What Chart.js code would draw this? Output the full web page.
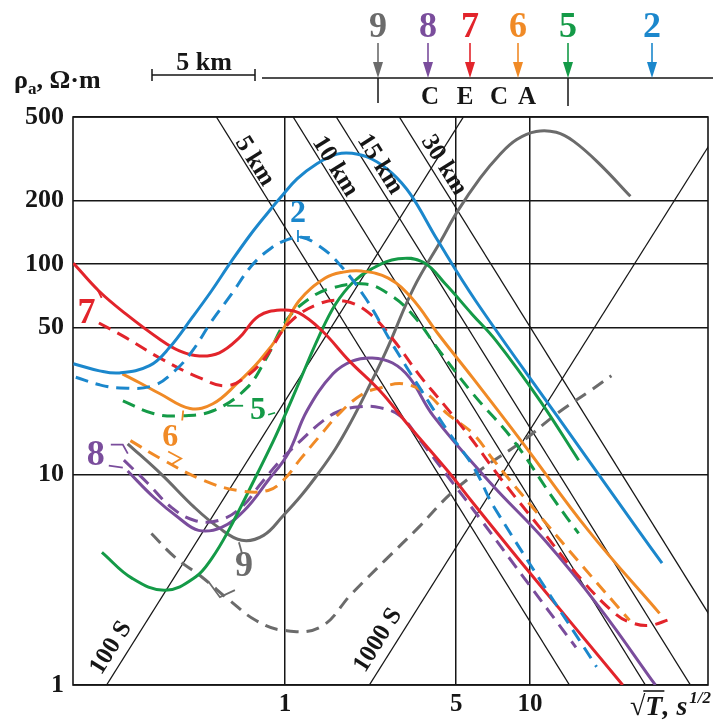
<!DOCTYPE html>
<html>
<head>
<meta charset="utf-8">
<script src="https://cdn.jsdelivr.net/npm/chart.js@4.4.1/dist/chart.umd.min.js"></script>
<style>
  html, body { margin: 0; padding: 0; background: #fff; }
</style>
</head>
<body>
<canvas id="rhoChart" width="713" height="722"></canvas>
<script>
// apparent resistivity curves, [sqrt(T), rho_a]
const site2Solid = [[0.137,33.6],[0.175,31.1],[0.211,30.4],[0.280,32.9],[0.337,40.0],[0.417,55.5],[0.501,74.5],[0.604,103],[0.726,139],[0.850,175],[0.959,207],[1.12,254],[1.35,300],[1.63,333],[1.88,336],[2.27,315],[2.74,270],[3.25,215],[4.21,129],[6.01,66.8],[12.9,19.0],[27.7,5.43],[34.6,3.79]];
const site2Dash = [[0.140,29.0],[0.175,26.7],[0.212,25.8],[0.289,26.4],[0.355,31.1],[0.419,38.7],[0.503,53.7],[0.606,72.1],[0.729,97.9],[0.877,119],[1.03,131],[1.17,134],[1.35,124],[1.63,103],[2.13,69.0],[2.74,41.8],[3.55,25.8],[4.60,16.2],[5.90,10.8],[7.15,6.98],[18.7,1.22]];
const site7Solid = [[0.137,101],[0.174,74.5],[0.224,58.0],[0.307,44.1],[0.371,38.7],[0.448,36.6],[0.540,37.9],[0.650,44.6],[0.782,56.7],[0.971,60.5],[1.14,58.6],[1.42,48.1],[1.83,34.7],[2.44,25.0],[3.16,17.4],[4.62,10.4],[5.75,7.53],[9.27,3.79],[23.9,1.0]];
const site7Dash = [[0.174,52.5],[0.225,44.6],[0.308,35.8],[0.449,28.8],[0.579,26.4],[0.718,30.1],[0.840,36.6],[1.04,52.5],[1.37,64.6],[1.74,66.8],[2.20,58.6],[2.79,43.2],[3.55,29.5],[4.50,21.2],[5.71,15.0],[7.60,9.57],[11.2,5.43],[16.3,3.15],[22.4,2.17],[26.2,1.97],[30.8,1.92],[37.2,2.05]];
const site6Solid = [[0.217,30.1],[0.255,27.3],[0.309,24.2],[0.410,20.6],[0.508,21.7],[0.636,27.0],[0.787,34.7],[0.973,48.1],[1.14,66.8],[1.46,85.8],[1.73,91.6],[2.05,92.7],[2.64,85.8],[3.29,69.0],[4.26,45.9],[5.84,28.8],[9.40,14.0],[17.3,5.43],[33.8,2.19]];
const site6Dash = [[0.234,14.5],[0.311,11.9],[0.467,9.37],[0.644,8.40],[0.853,8.40],[0.991,9.47],[1.16,11.9],[1.39,15.3],[1.68,19.7],[2.08,24.2],[2.44,25.8],[3.03,27.0],[3.79,24.2],[4.59,19.5],[5.87,15.6],[7.11,11.7],[10.1,7.13],[16.3,3.70],[25.5,2.03]];
const site5Solid = [[0.179,4.27],[0.238,3.21],[0.324,2.82],[0.430,3.25],[0.503,4.00],[0.589,5.43],[0.747,9.37],[0.898,14.5],[0.985,18.4],[1.15,27.9],[1.38,45.6],[1.61,64.6],[1.90,82.2],[2.25,94.7],[2.90,106],[3.67,102],[4.52,80.4],[5.79,58.0],[7.28,43.2],[11.0,22.4],[15.8,11.7]];
const site5Dash = [[0.218,22.4],[0.290,19.5],[0.373,19.0],[0.509,20.1],[0.699,25.8],[0.840,35.8],[1.01,53.7],[1.25,68.2],[1.55,76.9],[2.13,80.4],[2.65,72.1],[3.30,58.0],[4.27,38.7],[5.85,24.2],[8.57,14.5],[12.6,7.53],[15.8,5.25]];
const site8Solid = [[0.228,10.4],[0.292,7.78],[0.367,6.25],[0.444,5.43],[0.551,5.61],[0.682,6.75],[0.853,9.37],[1.03,12.6],[1.23,20.1],[1.57,30.1],[1.89,34.7],[2.27,35.8],[2.75,33.9],[3.23,28.8],[4.03,19.0],[6.93,9.07],[11.5,4.87],[19.2,2.34],[32.5,1.0]];
const site8Dash = [[0.220,11.7],[0.276,9.07],[0.344,6.98],[0.428,6.05],[0.536,6.05],[0.663,6.98],[0.798,9.07],[0.960,11.7],[1.16,14.5],[1.43,18.0],[1.68,20.1],[2.03,21.0],[2.44,20.8],[2.95,19.0],[3.57,14.5],[4.76,9.37],[6.34,6.05],[9.29,3.32],[15.4,1.51]];
const site9Solid = [[0.228,14.0],[0.311,10.1],[0.427,6.98],[0.535,5.61],[0.666,4.87],[0.818,5.14],[0.985,6.39],[1.165,7.95],[1.375,10.2],[1.61,13.3],[1.85,17.6],[2.16,25.0],[2.59,38.7],[3.35,76.9],[4.33,129],[5.06,178],[6.26,256],[7.54,332],[8.83,391],[10.6,427],[12.8,423],[15.1,383],[19.3,298],[25.7,210]];
const site9Dash = [[0.285,5.25],[0.356,4.04],[0.459,3.25],[0.593,2.53],[0.759,2.03],[0.980,1.82],[1.39,1.88],[1.88,2.73],[2.56,3.91],[3.51,5.61],[4.76,8.13],[6.48,10.8],[9.40,14.5],[12.9,19.5],[17.6,25.0],[21.5,29.5]];

// depth (h) and conductance (S) guide lines
const depthNames = ['5 km', '10 km', '15 km', '30 km'];
const depthLines = [[[0.525,500],[14.5,1]], [[1.08,500],[29.6,1]], [[1.62,500],[45.2,1]], [[2.93,500],[81.3,1]]];
const depthNameAt = [[0.751,308], [1.60,291], [2.44,298], [4.45,295]];
const condNames = ['100 S', '1000 S'];
const condLines = [[[0.187,1],[5.35,500]], [[2.21,1],[63.7,500]]];
const condNameAt = [[0.195,1.50], [2.40,1.63]];

// axis ticks
const xTicks = [1, 5, 10];
const yTicks = [1, 10, 50, 100, 200, 500];
const xRange = [0.1364, 53.3];
const yRange = [1, 500];

// site numbers, their colours and label anchors on the curves
const siteIds = ['2', '5', '6', '7', '8', '9'];
const siteColors = ['#1b87cc', '#149a47', '#f08a26', '#e2242b', '#7a4d9c', '#6b6b6b'];
const siteLabelAt = [[1.13,173], [0.777,20.1], [0.340,15.0], [0.155,58.0], [0.169,12.3], [0.680,3.63]];

const serif = '"Liberation Serif", "Times New Roman", serif';
const INK = '#161616';

const curves = [
  [site2Solid, 0, false], [site2Dash, 0, true],
  [site7Solid, 3, false], [site7Dash, 3, true],
  [site6Solid, 2, false], [site6Dash, 2, true],
  [site5Solid, 1, false], [site5Dash, 1, true],
  [site8Solid, 4, false], [site8Dash, 4, true],
  [site9Solid, 5, false], [site9Dash, 5, true],
];

const toXY = arr => arr.map(p => ({ x: p[0], y: p[1] }));

const datasets = [];
depthLines.concat(condLines).forEach(seg => {
  datasets.push({
    data: toXY(seg), showLine: true, borderColor: INK, borderWidth: 1.3,
    pointRadius: 0, tension: 0, order: 5
  });
});
curves.forEach(([pts, ci, dashed]) => {
  datasets.push({
    data: toXY(pts), showLine: true, borderColor: siteColors[ci], borderWidth: 3,
    borderDash: dashed ? [13, 8] : [], pointRadius: 0,
    tension: 0.4, order: 1
  });
});

// short leader strokes next to the site numbers (offsets from label centre)
const leaders = {
  '2': [[[0,16],[0,28]], [[0,23],[12,23]]],
  '5': [[[-31,-5],[-15,-5]], [[10,4],[17,2]]],
  '6': [[[13,-27],[12,-17]], [[-2,14],[11,21],[1,27]]],
  '7': [[[11,-24],[15,-16]]],
  '8': [[[15,-11],[27,-11],[32,-2]], [[13,10],[27,12]]],
  '9': [[[-5,-25],[-2,-14]], [[-35,15],[-24,30],[-9,23]]],
};

const overlay = {
  id: 'overlay',
  beforeDatasetsDraw(chart) {
    const { ctx, chartArea: a } = chart;
    ctx.save();
    ctx.strokeStyle = INK;
    ctx.lineWidth = 1.6;
    ctx.strokeRect(a.left, a.top, a.right - a.left, a.bottom - a.top);
    ctx.restore();
  },
  afterDatasetsDraw(chart) {
    const { ctx, scales: { x, y } } = chart;
    const px = p => [x.getPixelForValue(p[0]), y.getPixelForValue(p[1])];

    // names along the guide lines
    ctx.save();
    ctx.fillStyle = INK;
    ctx.font = 'bold 25px ' + serif;
    ctx.textAlign = 'center';
    ctx.textBaseline = 'middle';
    const names = depthNames.concat(condNames);
    const lines = depthLines.concat(condLines);
    const at = depthNameAt.concat(condNameAt);
    names.forEach((t, i) => {
      const [x0, y0] = px(lines[i][0]);
      const [x1, y1] = px(lines[i][1]);
      const ang = Math.atan2(y1 - y0, x1 - x0);
      const [cx, cy] = px(at[i]);
      ctx.save();
      ctx.translate(cx, cy);
      ctx.rotate(ang);
      ctx.fillText(t, 0, 0);
      ctx.restore();
    });
    ctx.restore();

    // site numbers on the curves
    ctx.save();
    ctx.textAlign = 'center';
    ctx.textBaseline = 'middle';
    ctx.lineWidth = 1.8;
    siteIds.forEach((id, i) => {
      const [cx, cy] = px(siteLabelAt[i]);
      ctx.fillStyle = siteColors[i];
      ctx.strokeStyle = siteColors[i];
      const big = id === '7' || id === '8' || id === '9';
      ctx.font = 'bold ' + (big ? 36 : 32) + 'px ' + serif;
      ctx.fillText(id, cx, cy);
      (leaders[id] || []).forEach(path => {
        ctx.beginPath();
        path.forEach(([dx, dy], k) => k ? ctx.lineTo(cx + dx, cy + dy) : ctx.moveTo(cx + dx, cy + dy));
        ctx.stroke();
      });
    });
    ctx.restore();
  },
  afterDraw(chart) {
    const { ctx } = chart;
    ctx.save();
    ctx.fillStyle = INK;
    ctx.strokeStyle = INK;
    ctx.textBaseline = 'alphabetic';

    // y axis title: rho_a, Ohm*m
    ctx.font = 'bold 26px ' + serif;
    ctx.textAlign = 'left';
    ctx.fillText('ρ', 14, 88);
    let w = ctx.measureText('ρ').width;
    ctx.font = 'bold 17px ' + serif;
    ctx.fillText('a', 14 + w, 94);
    w += ctx.measureText('a').width;
    ctx.font = 'bold 26px ' + serif;
    ctx.fillText(', Ω·m', 14 + w, 88);

    // scale bar
    ctx.lineWidth = 1.5;
    ctx.beginPath();
    ctx.moveTo(152, 75); ctx.lineTo(255, 75);
    ctx.moveTo(152, 69); ctx.lineTo(152, 81);
    ctx.moveTo(255, 69); ctx.lineTo(255, 81);
    // profile line and the two boundary ticks
    ctx.moveTo(262, 78); ctx.lineTo(713, 78);
    ctx.moveTo(378, 78); ctx.lineTo(378, 103);
    ctx.moveTo(568, 78); ctx.lineTo(568, 106);
    ctx.stroke();
    ctx.textAlign = 'center';
    ctx.font = 'bold 26px ' + serif;
    ctx.fillText('5 km', 204, 70);
    ctx.font = 'bold 25px ' + serif;
    [['C', 430], ['E', 465], ['C', 499], ['A', 527]].forEach(([c, cx]) => ctx.fillText(c, cx, 104));

    // station arrows along the profile
    const stations = [['9', 378, 5], ['8', 428, 4], ['7', 470, 3], ['6', 518, 2], ['5', 568, 1], ['2', 652, 0]];
    stations.forEach(([id, sx, ci]) => {
      const col = siteColors[ci];
      ctx.fillStyle = col;
      ctx.strokeStyle = col;
      ctx.font = 'bold 36px ' + serif;
      ctx.fillText(id, sx, 37);
      ctx.lineWidth = 1.6;
      ctx.beginPath();
      ctx.moveTo(sx, 43); ctx.lineTo(sx, 66);
      ctx.stroke();
      ctx.beginPath();
      ctx.moveTo(sx - 5, 62); ctx.lineTo(sx + 5, 62); ctx.lineTo(sx, 78);
      ctx.closePath();
      ctx.fill();
    });

    // x axis title: sqrt(T), s^1/2
    ctx.fillStyle = INK;
    ctx.strokeStyle = INK;
    ctx.textAlign = 'left';
    ctx.font = '28px ' + serif;
    const wR = ctx.measureText('√').width;
    ctx.font = 'bold italic 28px ' + serif;
    const wT = ctx.measureText('T').width;
    const wS = ctx.measureText(', s').width;
    ctx.font = 'bold italic 17px ' + serif;
    const wP = ctx.measureText('1/2').width;
    const x0 = 711 - (wR + wT + wS + wP + 2);
    ctx.font = '28px ' + serif;
    ctx.fillText('√', x0, 715);
    ctx.lineWidth = 1.6;
    ctx.beginPath();
    ctx.moveTo(x0 + wR - 2, 691); ctx.lineTo(x0 + wR + wT + 2, 691);
    ctx.stroke();
    ctx.font = 'bold italic 28px ' + serif;
    ctx.fillText('T', x0 + wR, 715);
    ctx.fillText(', s', x0 + wR + wT, 715);
    ctx.font = 'bold italic 17px ' + serif;
    ctx.fillText('1/2', x0 + wR + wT + wS + 2, 703);
    ctx.restore();
  }
};

Chart.defaults.font.family = serif;
Chart.defaults.color = INK;

const ctx = document.getElementById('rhoChart').getContext('2d');
const rhoChart = new Chart(ctx, {
  type: 'scatter',
  data: { datasets: datasets },
  options: {
    responsive: false,
    animation: false,
    devicePixelRatio: 1,
    layout: { padding: { top: 117, right: 5, left: 0, bottom: 0 } },
    plugins: { legend: { display: false }, tooltip: { enabled: false } },
    scales: {
      x: {
        type: 'logarithmic', min: xRange[0], max: xRange[1],
        afterBuildTicks: s => { s.ticks = xTicks.map(v => ({ value: v })); },
        afterFit: s => { s.height = 37; },
        ticks: {
          callback: v => String(v), autoSkip: false, maxRotation: 0, padding: 5,
          font: { size: 25, weight: 'bold' }, color: INK
        },
        grid: { color: INK, lineWidth: 1.5, drawTicks: false },
        border: { display: false }
      },
      y: {
        type: 'logarithmic', min: yRange[0], max: yRange[1],
        afterBuildTicks: s => { s.ticks = yTicks.map(v => ({ value: v })); },
        afterFit: s => { s.width = 73; },
        ticks: {
          callback: v => String(v), autoSkip: false, padding: 9,
          font: { size: 26, weight: 'bold' }, color: INK
        },
        grid: { color: INK, lineWidth: 1.5, drawTicks: false },
        border: { display: false }
      }
    }
  },
  plugins: [overlay]
});
</script>
</body>
</html>
